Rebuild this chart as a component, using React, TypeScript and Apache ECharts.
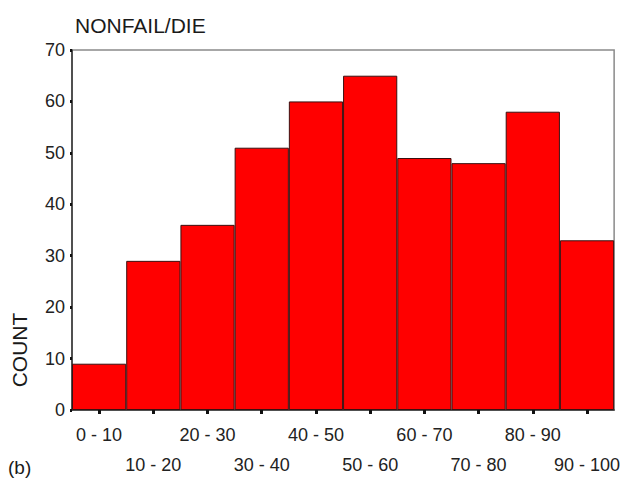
import React, { useEffect, useRef } from "react";
import * as echarts from "echarts";

const categories = ["0 - 10", "10 - 20", "20 - 30", "30 - 40", "40 - 50", "50 - 60", "60 - 70", "70 - 80", "80 - 90", "90 - 100"];
const counts = [9, 29, 36, 51, 60, 65, 49, 48, 58, 33];
const yTicks = { min: 0, max: 70, interval: 10 };
const titleText = "NONFAIL/DIE";
const yName = "COUNT";
const panelLabel = "(b)";

const FONT = "'Liberation Sans', Arial, Helvetica, sans-serif";

export default function App() {
  const ref = useRef<HTMLDivElement>(null);
  useEffect(() => {
    if (!ref.current) return;
    const chart = echarts.init(ref.current, undefined, { renderer: "svg" });
    chart.setOption({
      animation: false,
      backgroundColor: "#ffffff",
      textStyle: { fontFamily: FONT },
      title: {
        text: titleText,
        left: 70,
        top: 10,
        textStyle: { fontFamily: FONT, fontSize: 21, fontWeight: "normal", color: "#1a1a1a" },
      },
      graphic: [
        {
          type: "text",
          left: 8,
          top: 458,
          style: { text: panelLabel, font: `19px ${FONT}`, fill: "#1a1a1a" },
        },
        {
          type: "text",
          x: 19,
          y: 350,
          rotation: Math.PI / 2,
          style: {
            text: yName,
            font: `21px ${FONT}`,
            fill: "#1a1a1a",
            align: "center",
            verticalAlign: "middle",
          },
        },
      ],
      grid: {
        left: 72,
        right: 8,
        top: 50,
        bottom: 67,
        show: true,
        borderColor: "#8a8a8a",
        borderWidth: 1.5,
        backgroundColor: "transparent",
      },
      xAxis: {
        type: "category",
        data: categories,
        axisLine: { show: true, lineStyle: { color: "#333", width: 1.5 } },
        axisTick: { show: true, alignWithLabel: true, length: 4, inside: false, lineStyle: { color: "#111", width: 3 } },
        axisLabel: {
          interval: 0,
          margin: 10,
          fontFamily: FONT,
          fontSize: 18,
          color: "#222",
          lineHeight: 30,
          verticalAlign: "top",
          formatter: (v: string, i: number) => (i % 2 === 1 ? "\n" + v : v),
        },
        splitLine: { show: false },
      },
      yAxis: {
        type: "value",
        min: yTicks.min,
        max: yTicks.max,
        interval: yTicks.interval,
        axisLine: { show: true, lineStyle: { color: "#333", width: 1.5 } },
        axisTick: { show: true, length: 2, lineStyle: { color: "#111", width: 3 } },
        axisLabel: { margin: 7, fontFamily: FONT, fontSize: 18, color: "#222" },
        splitLine: { show: false },
      },
      series: [
        {
          type: "bar",
          data: counts,
          barCategoryGap: "0%",
          itemStyle: { color: "#ff0000", borderColor: "#3a1010", borderWidth: 1 },
        },
      ],
    });
    return () => chart.dispose();
  }, []);
  return (
    <div
      ref={ref}
      style={{ position: "fixed", left: 0, top: 0, width: 623, height: 480, background: "#fff" }}
    />
  );
}
